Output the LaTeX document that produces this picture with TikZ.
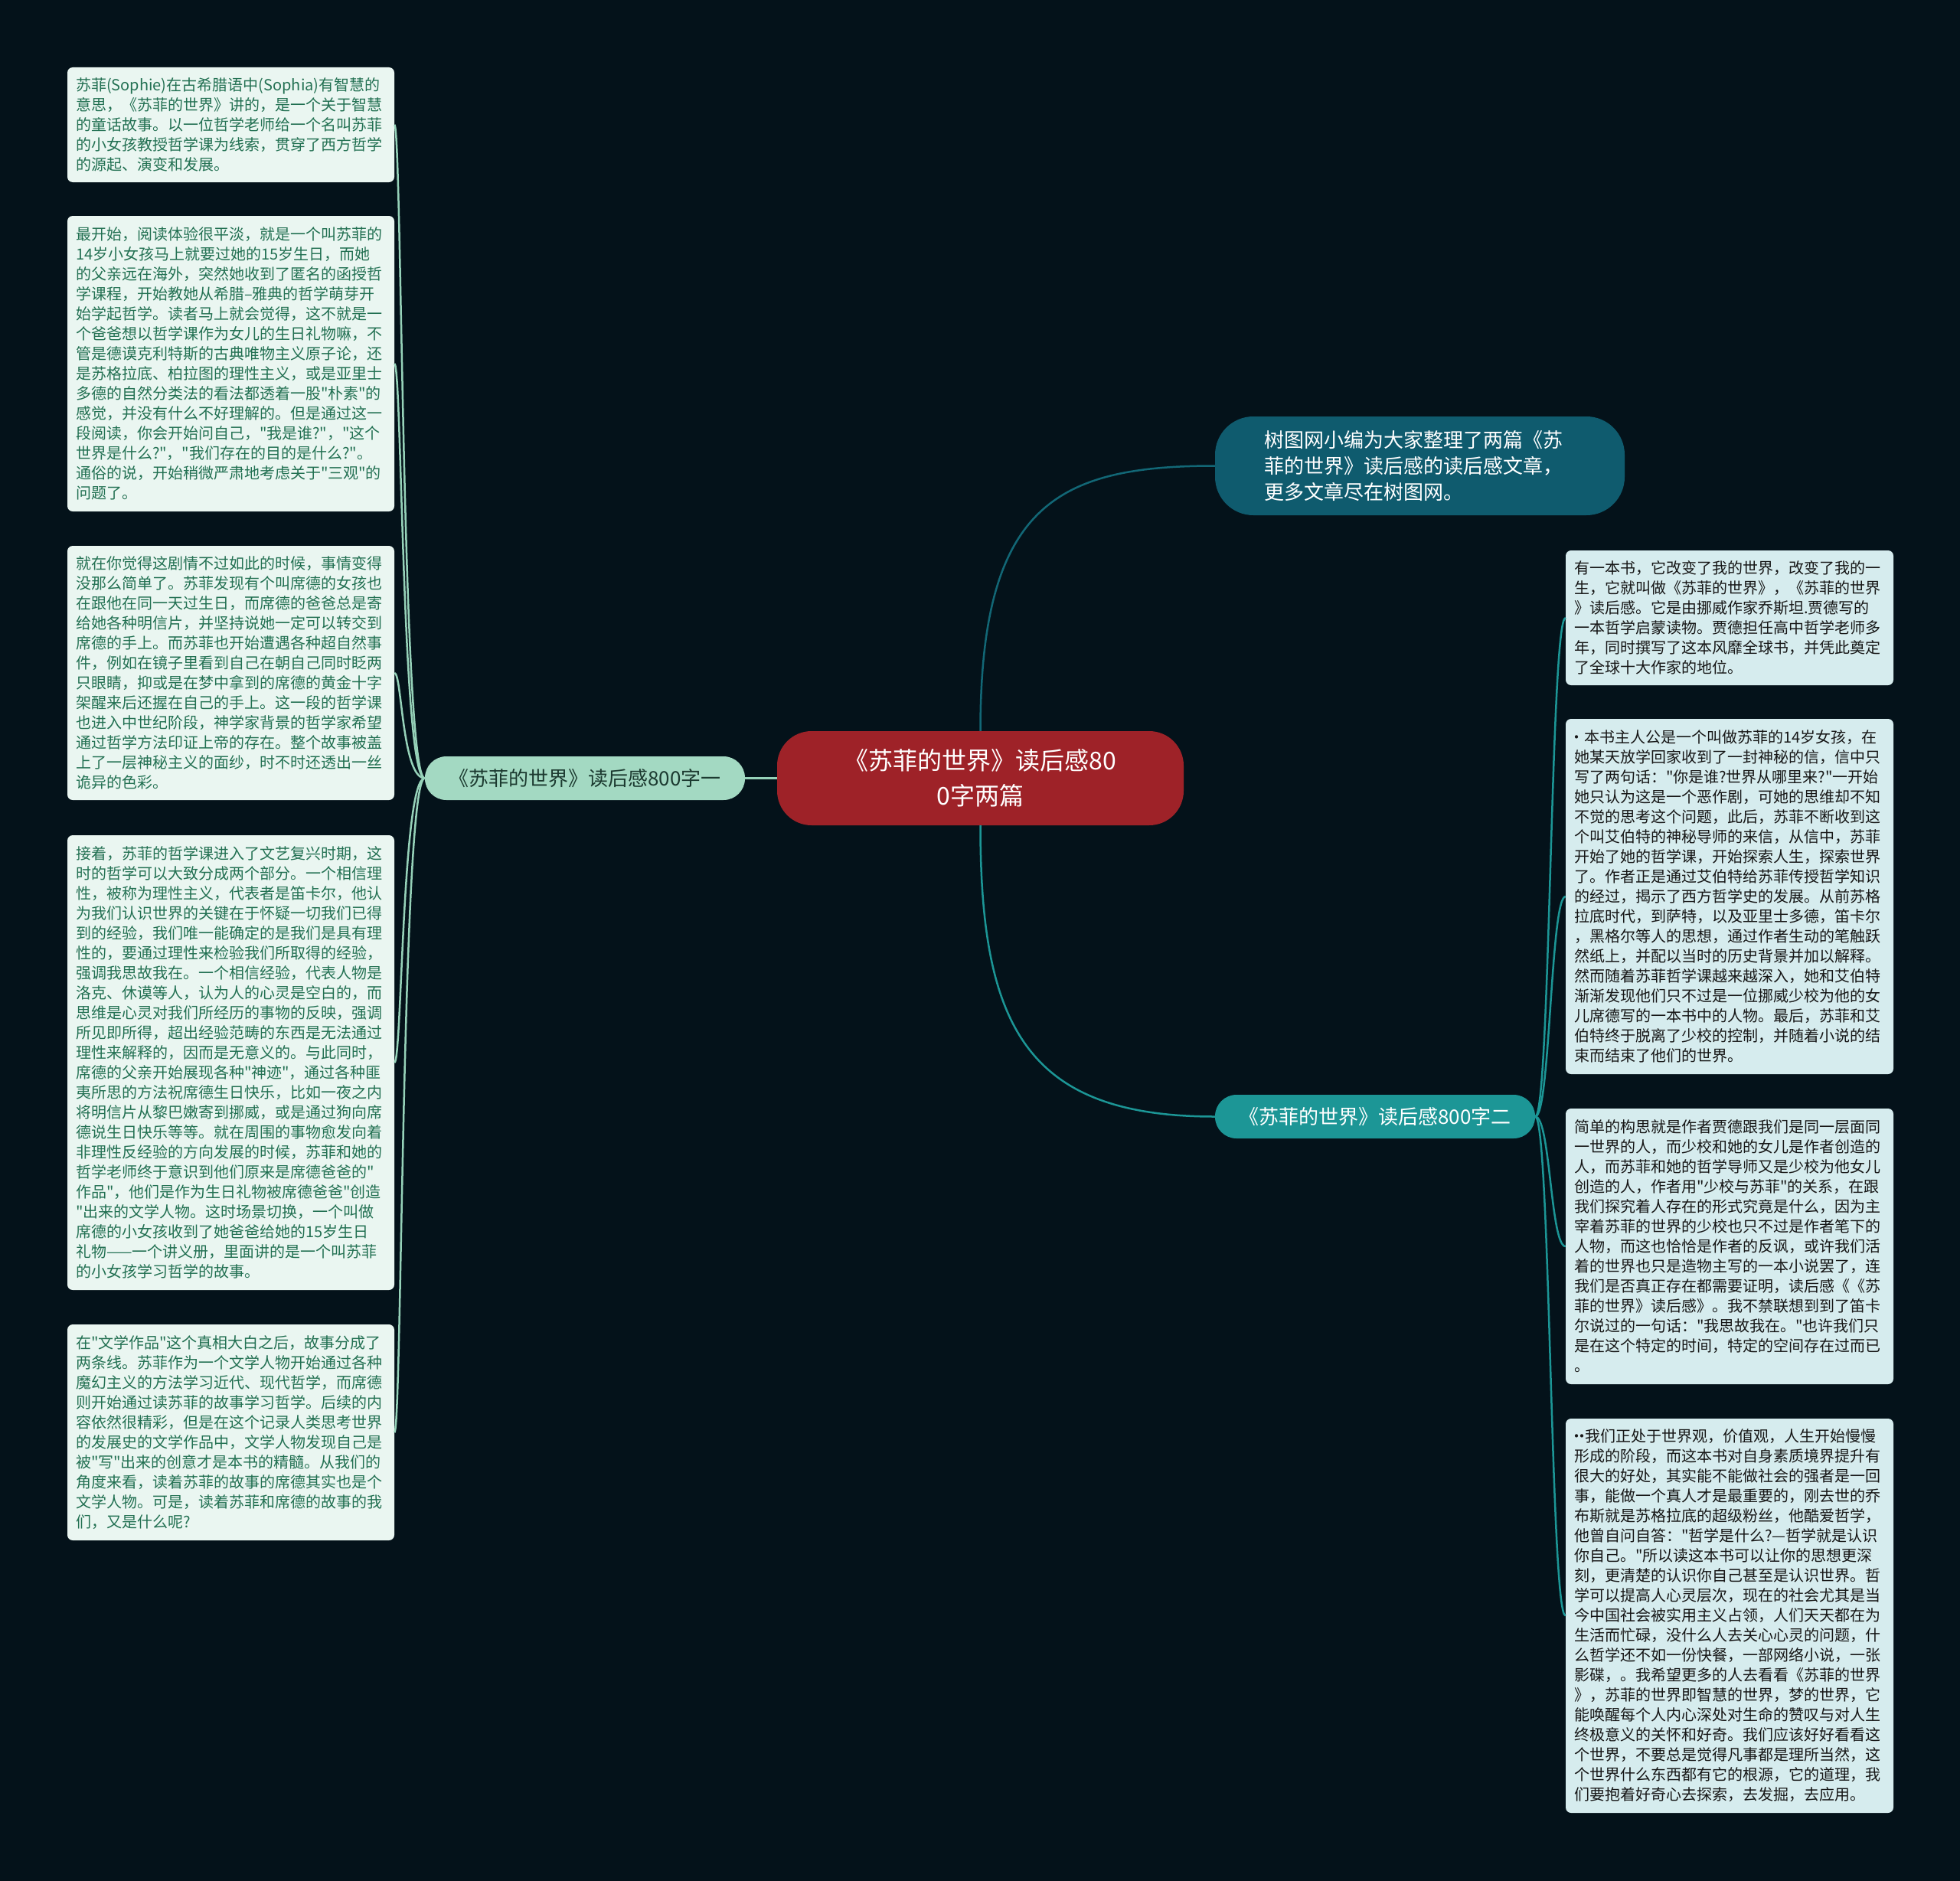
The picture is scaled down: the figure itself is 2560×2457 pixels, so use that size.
\documentclass[tikz,border=0pt]{standalone}
\usepackage{fontspec}
\newfontfamily\cjk{Noto Sans CJK SC}
\usetikzlibrary{positioning}

\definecolor{bgnavy}{RGB}{4,18,26}
\definecolor{rootred}{RGB}{158,34,40}
\definecolor{topteal}{RGB}{15,91,110}
\definecolor{midteal}{RGB}{28,150,150}
\definecolor{mintbranch}{RGB}{163,217,194}
\definecolor{mintline}{RGB}{150,210,185}
\definecolor{mintleaf}{RGB}{234,246,241}
\definecolor{mintleaftext}{RGB}{34,112,82}
\definecolor{mintbranchtext}{RGB}{28,58,48}
\definecolor{blueleaf}{RGB}{214,236,238}
\definecolor{blueleaftext}{RGB}{22,22,22}

\newcommand{\dotmark}{\makebox[7pt]{·}}

\tikzset{
  roottopic/.style={fill=rootred, text=white, rounded corners=45pt, minimum width=531pt, minimum height=123pt,
    align=center, font={\cjk\fontsize{32}{46}\selectfont}},
  notetopic/.style={fill=topteal, text=white, rounded corners=50pt, minimum width=535pt, minimum height=129pt,
    text width=406pt, align=left, font={\cjk\fontsize{26}{34}\selectfont}},
  branchleft/.style={fill=mintbranch, text=mintbranchtext, rounded corners=28pt, minimum width=418pt, minimum height=57pt,
    font={\cjk\fontsize{26}{30}\selectfont}},
  branchright/.style={fill=midteal, text=white, rounded corners=28pt, minimum width=418pt, minimum height=57pt,
    font={\cjk\fontsize{26}{30}\selectfont}},
  leafleft/.style={fill=mintleaf, text=mintleaftext, rounded corners=7pt, text width=405pt, inner xsep=11pt, inner ysep=0pt,
    align=left, font={\cjk\fontsize{20}{26}\selectfont}},
  leafright/.style={fill=blueleaf, text=blueleaftext, rounded corners=7pt, text width=406pt, inner xsep=11pt, inner ysep=0pt,
    align=left, font={\cjk\fontsize{20}{26}\selectfont}},
  linkleft/.style={draw=mintline, line width=2.5pt},
  linkright/.style={draw=midteal, line width=2.5pt},
  linktop/.style={draw=topteal!80!midteal, line width=2.5pt}
}

\begin{document}
\begin{tikzpicture}[x=1pt,y=-1pt]
    \fill[bgnavy] (0,0) rectangle (2560,2457);
    \useasboundingbox (0,0) rectangle (2560,2457);

    % Central topic
    \node[roottopic] (root) at (1280.5,1016.5) {《苏菲的世界》读后感80\\0字两篇};

    % Main branches
    \node[notetopic] (note) at (1854.5,608.5) {树图网小编为大家整理了两篇《苏\\菲的世界》读后感的读后感文章，\\更多文章尽在树图网。};
    \node[branchleft] (essayone) at (764,1016.5) {《苏菲的世界》读后感800字一};
    \node[branchright] (essaytwo) at (1796,1458.5) {《苏菲的世界》读后感800字二};

    \draw[linktop] (root.north) .. controls (1280.5,660) and (1380,608.5) .. (note.west);
    \draw[linkright] (root.south) .. controls (1280.5,1340) and (1340,1458.5) .. (essaytwo.west);
    \draw[linkleft] (root.west) -- (essayone.east);

    % Left leaves
    \node[leafleft, minimum height=150pt] (one1) at (301.5,163) {苏菲(Sophie)在古希腊语中(Sophia)有智慧的\\
意思，《苏菲的世界》讲的，是一个关于智慧\\
的童话故事。以一位哲学老师给一个名叫苏菲\\
的小女孩教授哲学课为线索，贯穿了西方哲学\\
的源起、演变和发展。};
    \node[leafleft, minimum height=386pt] (one2) at (301.5,475) {最开始，阅读体验很平淡，就是一个叫苏菲的\\
14岁小女孩马上就要过她的15岁生日，而她\\
的父亲远在海外，突然她收到了匿名的函授哲\\
学课程，开始教她从希腊–雅典的哲学萌芽开\\
始学起哲学。读者马上就会觉得，这不就是一\\
个爸爸想以哲学课作为女儿的生日礼物嘛，不\\
管是德谟克利特斯的古典唯物主义原子论，还\\
是苏格拉底、柏拉图的理性主义，或是亚里士\\
多德的自然分类法的看法都透着一股"朴素"的\\
感觉，并没有什么不好理解的。但是通过这一\\
段阅读，你会开始问自己，"我是谁?"，"这个\\
世界是什么?"，"我们存在的目的是什么?"。\\
通俗的说，开始稍微严肃地考虑关于"三观"的\\
问题了。};
    \node[leafleft, minimum height=332pt] (one3) at (301.5,879) {就在你觉得这剧情不过如此的时候，事情变得\\
没那么简单了。苏菲发现有个叫席德的女孩也\\
在跟他在同一天过生日，而席德的爸爸总是寄\\
给她各种明信片，并坚持说她一定可以转交到\\
席德的手上。而苏菲也开始遭遇各种超自然事\\
件，例如在镜子里看到自己在朝自己同时眨两\\
只眼睛，抑或是在梦中拿到的席德的黄金十字\\
架醒来后还握在自己的手上。这一段的哲学课\\
也进入中世纪阶段，神学家背景的哲学家希望\\
通过哲学方法印证上帝的存在。整个故事被盖\\
上了一层神秘主义的面纱，时不时还透出一丝\\
诡异的色彩。};
    \node[leafleft, minimum height=594pt] (one4) at (301.5,1388) {接着，苏菲的哲学课进入了文艺复兴时期，这\\
时的哲学可以大致分成两个部分。一个相信理\\
性，被称为理性主义，代表者是笛卡尔，他认\\
为我们认识世界的关键在于怀疑一切我们已得\\
到的经验，我们唯一能确定的是我们是具有理\\
性的，要通过理性来检验我们所取得的经验，\\
强调我思故我在。一个相信经验，代表人物是\\
洛克、休谟等人，认为人的心灵是空白的，而\\
思维是心灵对我们所经历的事物的反映，强调\\
所见即所得，超出经验范畴的东西是无法通过\\
理性来解释的，因而是无意义的。与此同时，\\
席德的父亲开始展现各种"神迹"，通过各种匪\\
夷所思的方法祝席德生日快乐，比如一夜之内\\
将明信片从黎巴嫩寄到挪威，或是通过狗向席\\
德说生日快乐等等。就在周围的事物愈发向着\\
非理性反经验的方向发展的时候，苏菲和她的\\
哲学老师终于意识到他们原来是席德爸爸的"\\
作品"，他们是作为生日礼物被席德爸爸"创造\\
"出来的文学人物。这时场景切换，一个叫做\\
席德的小女孩收到了她爸爸给她的15岁生日\\
礼物——一个讲义册，里面讲的是一个叫苏菲\\
的小女孩学习哲学的故事。};
    \node[leafleft, minimum height=282pt] (one5) at (301.5,1871) {在"文学作品"这个真相大白之后，故事分成了\\
两条线。苏菲作为一个文学人物开始通过各种\\
魔幻主义的方法学习近代、现代哲学，而席德\\
则开始通过读苏菲的故事学习哲学。后续的内\\
容依然很精彩，但是在这个记录人类思考世界\\
的发展史的文学作品中，文学人物发现自己是\\
被"写"出来的创意才是本书的精髓。从我们的\\
角度来看，读着苏菲的故事的席德其实也是个\\
文学人物。可是，读着苏菲和席德的故事的我\\
们，又是什么呢?};

    \foreach \leaf in {one1,one2,one3,one4,one5}
      \draw[linkleft] (essayone.west) .. controls (525,1016.5) and (525,0 |- \leaf.east) .. (\leaf.east);

    % Right leaves
    \node[leafright, minimum height=176pt] (two1) at (2259,807) {有一本书，它改变了我的世界，改变了我的一\\
生，它就叫做《苏菲的世界》，《苏菲的世界\\
》读后感。它是由挪威作家乔斯坦.贾德写的\\
一本哲学启蒙读物。贾德担任高中哲学老师多\\
年，同时撰写了这本风靡全球书，并凭此奠定\\
了全球十大作家的地位。};
    \node[leafright, minimum height=464pt] (two2) at (2259,1171) {\dotmark~本书主人公是一个叫做苏菲的14岁女孩，在\\
她某天放学回家收到了一封神秘的信，信中只\\
写了两句话："你是谁?世界从哪里来?"一开始\\
她只认为这是一个恶作剧，可她的思维却不知\\
不觉的思考这个问题，此后，苏菲不断收到这\\
个叫艾伯特的神秘导师的来信，从信中，苏菲\\
开始了她的哲学课，开始探索人生，探索世界\\
了。作者正是通过艾伯特给苏菲传授哲学知识\\
的经过，揭示了西方哲学史的发展。从前苏格\\
拉底时代，到萨特，以及亚里士多德，笛卡尔\\
，黑格尔等人的思想，通过作者生动的笔触跃\\
然纸上，并配以当时的历史背景并加以解释。\\
然而随着苏菲哲学课越来越深入，她和艾伯特\\
渐渐发现他们只不过是一位挪威少校为他的女\\
儿席德写的一本书中的人物。最后，苏菲和艾\\
伯特终于脱离了少校的控制，并随着小说的结\\
束而结束了他们的世界。};
    \node[leafright, minimum height=360pt] (two3) at (2259,1628) {简单的构思就是作者贾德跟我们是同一层面同\\
一世界的人，而少校和她的女儿是作者创造的\\
人，而苏菲和她的哲学导师又是少校为他女儿\\
创造的人，作者用"少校与苏菲"的关系，在跟\\
我们探究着人存在的形式究竟是什么，因为主\\
宰着苏菲的世界的少校也只不过是作者笔下的\\
人物，而这也恰恰是作者的反讽，或许我们活\\
着的世界也只是造物主写的一本小说罢了，连\\
我们是否真正存在都需要证明，读后感《《苏\\
菲的世界》读后感》。我不禁联想到到了笛卡\\
尔说过的一句话："我思故我在。"也许我们只\\
是在这个特定的时间，特定的空间存在过而已\\
。};
    \node[leafright, minimum height=515pt] (two4) at (2259,2110.5) {\dotmark\dotmark 我们正处于世界观，价值观，人生开始慢慢\\
形成的阶段，而这本书对自身素质境界提升有\\
很大的好处，其实能不能做社会的强者是一回\\
事，能做一个真人才是最重要的，刚去世的乔\\
布斯就是苏格拉底的超级粉丝，他酷爱哲学，\\
他曾自问自答："哲学是什么?—哲学就是认识\\
你自己。"所以读这本书可以让你的思想更深\\
刻，更清楚的认识你自己甚至是认识世界。哲\\
学可以提高人心灵层次，现在的社会尤其是当\\
今中国社会被实用主义占领，人们天天都在为\\
生活而忙碌，没什么人去关心心灵的问题，什\\
么哲学还不如一份快餐，一部网络小说，一张\\
影碟，。我希望更多的人去看看《苏菲的世界\\
》，苏菲的世界即智慧的世界，梦的世界，它\\
能唤醒每个人内心深处对生命的赞叹与对人生\\
终极意义的关怀和好奇。我们应该好好看看这\\
个世界，不要总是觉得凡事都是理所当然，这\\
个世界什么东西都有它的根源，它的道理，我\\
们要抱着好奇心去探索，去发掘，去应用。};

    \foreach \leaf in {two1,two2,two3,two4}
      \draw[linkright] (essaytwo.east) .. controls (2025,1458.5) and (2025,0 |- \leaf.west) .. (\leaf.west);
\end{tikzpicture}
\end{document}
